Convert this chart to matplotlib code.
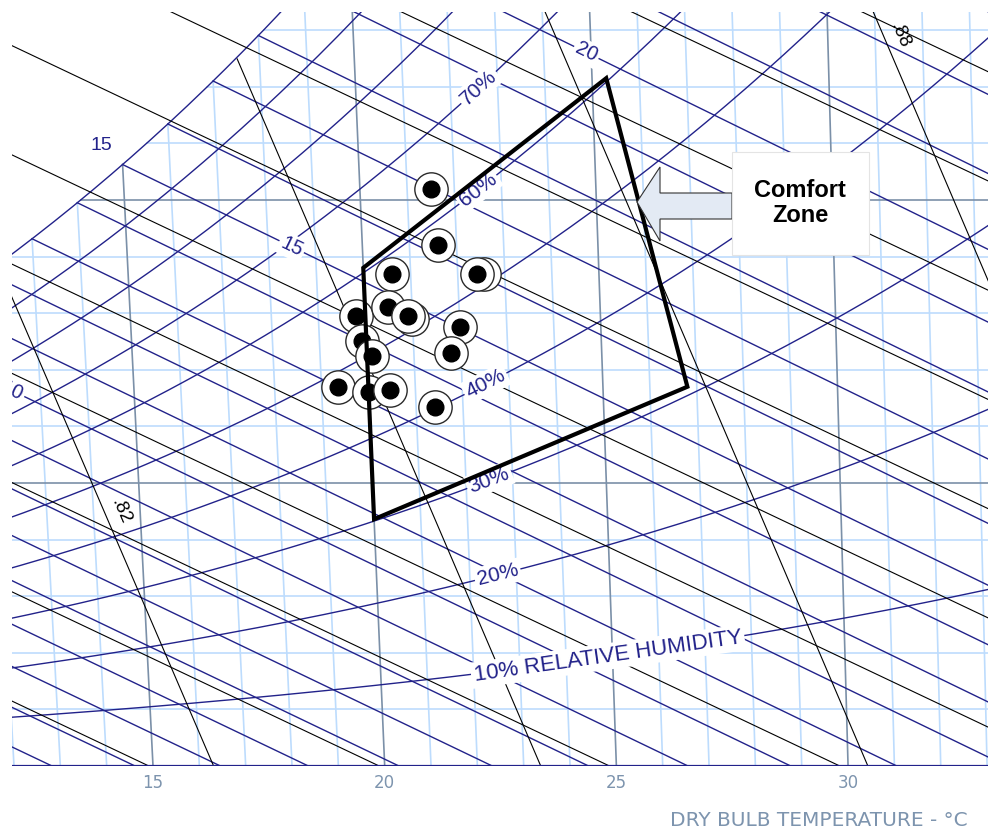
import numpy as np
import matplotlib
matplotlib.use("Agg")
import matplotlib.pyplot as plt
from matplotlib.patches import Polygon, Rectangle

plt.rcParams["font.family"] = ["Liberation Sans", "DejaVu Sans"]

P_ATM = 101.325

NAVY = "#22228a"
PALE = "#bddcfd"
SLATE = "#7b90a8"
AXIS_TXT = "#7d94ae"

# chart line levels
db_levels = list(range(5, 40))            # dry bulb, degC
w_levels = list(range(1, 14))             # humidity ratio, g/kg
rh_levels = [10, 20, 30, 40, 50, 60, 70, 80, 90]
wb_levels = list(range(0, 30))            # wet bulb, degC
h_levels = list(range(5, 105, 5))         # enthalpy, kJ/kg
v_levels = [0.80, 0.82, 0.84, 0.86, 0.88, 0.90]  # specific volume, m3/kg

# chart labels
rh_text = ["10% RELATIVE HUMIDITY", "20%", "30%", "40%", "60%", "70%"]
rh_text_rh = [10, 20, 30, 40, 60, 70]
rh_text_t = [24.9, 22.6, 22.5, 22.5, 22.5, 22.6]
wb_text = ["10", "15", "20"]
wb_text_t = [12.4, 18.5, 24.9]
v_text = [".82", ".88"]
v_text_w = [4.5, 12.9]
x_ticks = [15, 20, 25, 30]

# comfort zone corners
zone_t = [20.0, 20.0, 25.3, 26.8]
zone_w = [4.36, 8.8, 12.15, 6.7]

# measured conditions (dry bulb degC, humidity ratio g/kg)
pts_t = [21.5, 21.6, 20.6, 22.55, 22.4, 19.8, 20.5, 21.0, 20.9,
         22.0, 21.8, 19.9, 20.1, 19.35, 20.0, 20.45, 21.4]
pts_w = [10.2, 9.2, 8.7, 8.7, 8.7, 7.95, 8.1, 7.9, 7.95,
         7.75, 7.3, 7.5, 7.25, 6.7, 6.6, 6.65, 6.35]


def psat(t):
    return 0.61094 * np.exp(17.625 * t / (t + 243.04))


def w_rh(t, rh):
    pv = rh / 100 * psat(t)
    return 621.945 * pv / (P_ATM - pv)


def dew_point(w):
    pv = P_ATM * w / (621.945 + w)
    a = np.log(pv / 0.61094)
    return 243.04 * a / (17.625 - a)


def w_wetbulb(t, twb):
    ws = w_rh(twb, 100)
    return ((2501 - 2.326 * twb) * ws - 1006 * (t - twb)) / (2501 + 1.86 * t - 4.186 * twb)


def chart_x(t, w):
    # dry bulb lines lean a little on this chart
    return t + w * (0.001849 * t - 0.0895)


fig = plt.figure(figsize=(9.88, 8.34), dpi=100)
ax = fig.add_axes([12 / 988, 68 / 834, 976 / 988, 754 / 834])
ax.set_xlim(11.957, 33.02)
ax.set_ylim(0, 13.32)

# dry bulb lines
for t in db_levels:
    ws = np.array([0, min(w_rh(t, 100), 14)])
    major = t % 5 == 0
    ax.plot(chart_x(t, ws), ws, color=SLATE if major else PALE,
            lw=1.2, zorder=2 if major else 1)

# humidity ratio lines
for w in w_levels:
    td = dew_point(w)
    major = w % 5 == 0
    ax.plot([chart_x(td, w), chart_x(40, w)], [w, w],
            color=SLATE if major else PALE, lw=1.2, zorder=2 if major else 1)

# relative humidity curves
tt = np.linspace(0, 42, 300)
for rh in rh_levels + [100]:
    ax.plot(chart_x(tt, w_rh(tt, rh)), w_rh(tt, rh), color=NAVY, lw=1.0, zorder=3)

# wet bulb lines
for twb in wb_levels:
    tt = np.linspace(twb, twb + 45, 1500)
    ww = w_wetbulb(tt, twb)
    keep = ww >= 0
    ax.plot(chart_x(tt[keep], ww[keep]), ww[keep], color=NAVY, lw=1.0, zorder=3)

# enthalpy lines
for h in h_levels:
    ws = np.array([0, 15])
    tt = (h - 2.501 * ws) / (1.006 + 0.00186 * ws)
    ax.plot(chart_x(tt, ws), ws, color="black", lw=0.8, zorder=3)

# specific volume lines
for v in v_levels:
    ws = np.linspace(0, 15, 300)
    tt = v * P_ATM / (0.287042 * (1 + 1.607858 * ws / 1000)) - 273.15
    keep = ws <= w_rh(tt, 100)
    ax.plot(chart_x(tt[keep], ws[keep]), ws[keep], color="black", lw=0.8, zorder=3)

ax.axhline(0, color=NAVY, lw=1.6, zorder=4)


def screen_angle(x0, y0, x1, y1):
    p = ax.transData.transform([[x0, y0], [x1, y1]])
    return np.degrees(np.arctan2(p[1, 1] - p[0, 1], p[1, 0] - p[0, 0]))


label_box = dict(boxstyle="square,pad=0.12", fc="white", ec="none")

for txt, rh, t in zip(rh_text, rh_text_rh, rh_text_t):
    wa, wb = w_rh(t - 0.4, rh), w_rh(t + 0.4, rh)
    ang = screen_angle(chart_x(t - 0.4, wa), wa, chart_x(t + 0.4, wb), wb)
    w = w_rh(t, rh)
    ax.text(chart_x(t, w), w, txt, rotation=ang, rotation_mode="anchor",
            ha="center", va="center", color=NAVY,
            fontsize=16 if len(txt) > 4 else 15, bbox=label_box, zorder=5, clip_on=True)

for txt, t in zip(wb_text, wb_text_t):
    twb = float(txt)
    wa, wb = w_wetbulb(t - 0.4, twb), w_wetbulb(t + 0.4, twb)
    ang = screen_angle(chart_x(t - 0.4, wa), wa, chart_x(t + 0.4, wb), wb)
    w = w_wetbulb(t, twb)
    ax.text(chart_x(t, w), w, txt, rotation=ang, rotation_mode="anchor",
            ha="center", va="center", color=NAVY, fontsize=14.5,
            bbox=label_box, zorder=5, clip_on=True)

for txt, w in zip(v_text, v_text_w):
    v = float("0" + txt)
    ta = v * P_ATM / (0.287042 * (1 + 1.607858 * (w - 0.5) / 1000)) - 273.15
    tb = v * P_ATM / (0.287042 * (1 + 1.607858 * (w + 0.5) / 1000)) - 273.15
    t = v * P_ATM / (0.287042 * (1 + 1.607858 * w / 1000)) - 273.15
    ang = screen_angle(chart_x(ta, w - 0.5), w - 0.5, chart_x(tb, w + 0.5), w + 0.5)
    ax.text(chart_x(t, w) + 0.35, w, txt, rotation=ang + 180, rotation_mode="anchor",
            ha="center", va="center", color="black", fontsize=13.5, zorder=5)

ws15 = w_rh(15, 100)
ax.annotate("15", xy=(chart_x(15, ws15), ws15), xytext=(-15, 14),
            textcoords="offset points", ha="center", va="center",
            color=NAVY, fontsize=14, zorder=5)

# measured points
for t, w in zip(pts_t, pts_w):
    ax.plot(chart_x(t, w), w, "o", ms=24, mfc="white", mec="#2a2a2a", mew=1.0, zorder=6)
    ax.plot(chart_x(t, w), w, "o", ms=12, color="black", zorder=6)

# comfort zone outline
zx = [chart_x(t, w) for t, w in zip(zone_t, zone_w)]
ax.add_patch(Polygon(list(zip(zx, zone_w)), closed=True, fill=False,
                     ec="black", lw=3, joinstyle="miter", zorder=7))

ax.set_xticks(x_ticks)
ax.set_xticklabels([str(t) for t in x_ticks], family="DejaVu Sans",
                   fontsize=12, color=AXIS_TXT)
ax.tick_params(axis="x", length=0, pad=6)
ax.set_yticks([])
for s in ax.spines.values():
    s.set_visible(False)

fig.text(968 / 988, 1 - 821 / 834, "DRY BULB TEMPERATURE - °C", family="DejaVu Sans",
         fontsize=14.5, color=AXIS_TXT, ha="right", va="center")


# callout
def fpx(x, y):
    return (x / 988, 1 - y / 834)


arrow = [(637, 202), (660, 167), (660, 193), (732, 193), (732, 219), (660, 219), (660, 241)]
fig.add_artist(Polygon([fpx(*p) for p in arrow], closed=True, transform=fig.transFigure,
                       fc="#e3eaf4", ec="#333333", lw=0.8, zorder=8))
fig.add_artist(Rectangle(fpx(732, 255), 137 / 988, 103 / 834, transform=fig.transFigure,
                         fc="white", ec="#e4e4e4", lw=0.8, zorder=8))
fig.text(800 / 988, 1 - 203 / 834, "Comfort\nZone", ha="center", va="center",
         fontsize=17, fontweight="bold", color="black", linespacing=1.15, zorder=9)

fig.savefig("out.png", dpi=100)
